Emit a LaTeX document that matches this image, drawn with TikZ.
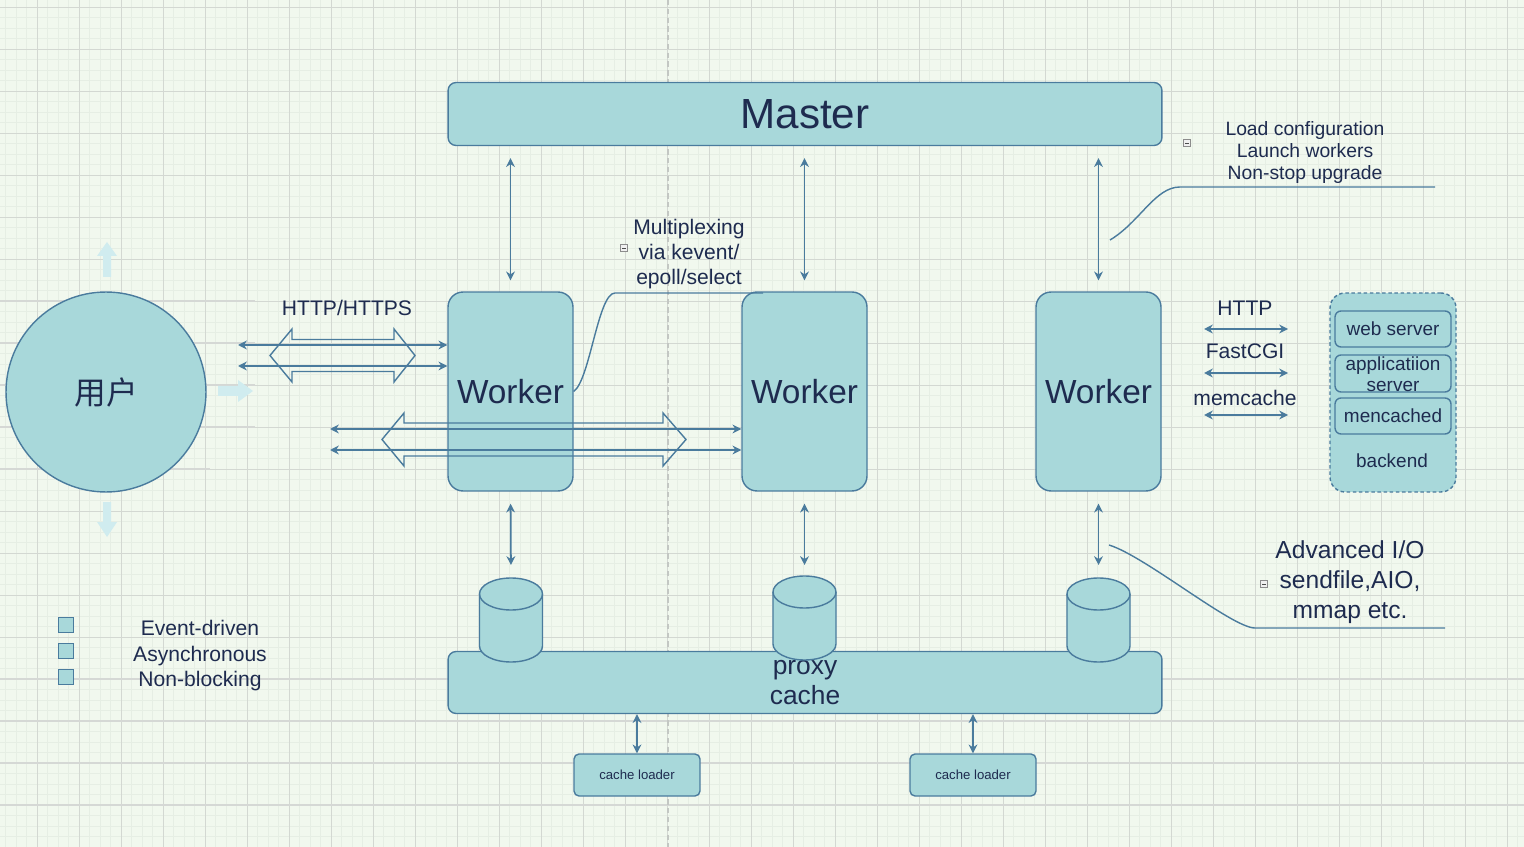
\documentclass[tikz,border=0pt]{standalone}
\usepackage{fontspec}
\setmainfont{Liberation Sans}
\newfontfamily\cjkfont{Noto Sans CJK SC}
\usepackage{tikz}
\usetikzlibrary{arrows.meta, positioning, calc}
\usepackage{xcolor}
\definecolor{NgxFill}{HTML}{A8D8DA}
\definecolor{NgxLine}{HTML}{4A7B9D}
\definecolor{NgxText}{HTML}{1E2B4F}
\definecolor{NgxPaper}{HTML}{F1F8EE}
\definecolor{NgxGridMinor}{HTML}{E6EEE4}
\definecolor{NgxGridMajor}{HTML}{D3D8D2}
\definecolor{NgxRule}{HTML}{D5D8D5}
\definecolor{NgxGuide}{HTML}{C3C7C3}
\definecolor{NgxHint}{HTML}{D0ECEF}
\definecolor{NgxFold}{HTML}{8C8C8C}
\tikzset{
    % Box styles
    masterbox/.style={
        rectangle,
        rounded corners=0.16cm,
        draw=NgxLine,
        fill=NgxFill,
        line width=0.8pt,
        minimum width=14.28cm,
        minimum height=1.26cm,
        text=NgxText,
        font=\fontsize{24}{28}\selectfont
    },
    workerbox/.style={
        rectangle,
        rounded corners=0.3cm,
        draw=NgxLine,
        fill=NgxFill,
        line width=0.8pt,
        minimum width=2.5cm,
        minimum height=3.98cm,
        text=NgxText,
        font=\fontsize{19}{22}\selectfont
    },
    cachebar/.style={
        rectangle,
        rounded corners=0.16cm,
        draw=NgxLine,
        fill=NgxFill,
        line width=0.8pt,
        minimum width=14.28cm,
        minimum height=1.24cm,
        align=center,
        inner sep=0pt,
        text=NgxText,
        font=\fontsize{15}{17.5}\selectfont
    },
    loaderbox/.style={
        rectangle,
        rounded corners=0.1cm,
        draw=NgxLine,
        fill=NgxFill,
        line width=0.8pt,
        minimum width=2.52cm,
        minimum height=0.84cm,
        text=NgxText,
        font=\fontsize{7.5}{9}\selectfont
    },
    userdisk/.style={
        circle,
        draw=NgxLine,
        fill=NgxFill,
        line width=0.8pt,
        minimum size=4cm,
        text=NgxText,
        font=\cjkfont\fontsize{18}{22}\selectfont
    },
    backendbox/.style={
        rectangle,
        rounded corners=0.3cm,
        draw=NgxLine,
        fill=NgxFill,
        line width=0.8pt,
        dashed,
        dash pattern=on 2pt off 1.5pt,
        minimum width=2.52cm,
        minimum height=3.98cm
    },
    serverbox/.style={
        rectangle,
        rounded corners=0.12cm,
        draw=NgxLine,
        fill=NgxFill,
        line width=0.8pt,
        minimum width=2.32cm,
        minimum height=0.72cm,
        inner sep=0pt,
        text=NgxText,
        font=\fontsize{10.8}{12.5}\selectfont
    },
    plainlabel/.style={
        align=center,
        inner sep=0pt,
        text=NgxText,
        font=\fontsize{12}{14.5}\selectfont
    },
    legendbox/.style={
        rectangle,
        draw=NgxLine,
        fill=NgxFill,
        line width=0.9pt,
        minimum size=0.3cm,
        inner sep=0pt
    },
    foldmark/.style={
        rectangle,
        draw=NgxFold,
        fill=gray!12,
        line width=0.4pt,
        minimum width=0.15cm,
        minimum height=0.13cm,
        inner sep=0pt,
        path picture={\draw[black!70, line width=0.5pt]
            ([xshift=0.04cm]path picture bounding box.west) --
            ([xshift=-0.04cm]path picture bounding box.east);}
    },
    % Line styles
    biarrow/.style={
        {Stealth[length=5pt,width=5pt]}-{Stealth[length=5pt,width=5pt]},
        draw=NgxLine,
        line width=1pt
    },
    hollowarrow/.style={
        draw=NgxLine,
        line width=0.8pt,
        line join=miter
    },
    calloutline/.style={
        draw=NgxLine,
        line width=0.8pt
    },
    hintarrow/.style={
        fill=NgxHint
    },
    gridminor/.style={draw=NgxGridMinor, line width=0.5pt},
    gridmajor/.style={draw=NgxGridMajor, line width=0.6pt},
    paperrule/.style={draw=NgxRule, line width=1.1pt},
    guideline/.style={draw=NgxGuide, line width=0.6pt, dash pattern=on 3pt off 2pt},
    % Cache disk on the proxy bar
    cachedisk/.pic={
        \filldraw[draw=NgxLine, fill=NgxFill, line width=0.8pt]
            (-31.5,16) -- (-31.5,68)
            .. controls (-31.5,76.8) and (-17.4,84) .. (0,84)
            .. controls (17.4,84) and (31.5,76.8) .. (31.5,68)
            -- (31.5,16)
            .. controls (31.5,7.2) and (17.4,0) .. (0,0)
            .. controls (-17.4,0) and (-31.5,7.2) .. (-31.5,16) -- cycle;
        \draw[NgxLine, line width=0.8pt]
            (-31.5,16) .. controls (-31.5,24.8) and (-17.4,32) .. (0,32)
            .. controls (17.4,32) and (31.5,24.8) .. (31.5,16);
        \coordinate (-top) at (0,0);
    }
}
% hollow two-headed arrow: tip, inner, inner, tip, mid y, body half, head half
\newcommand\hollowbiarrow[7]{%
    \draw[hollowarrow] (#1,#5) -- (#2,#5-#7) -- (#2,#5-#6) -- (#3,#5-#6)
        -- (#3,#5-#7) -- (#4,#5) -- (#3,#5+#7) -- (#3,#5+#6)
        -- (#2,#5+#6) -- (#2,#5+#7) -- cycle;}

\begin{document}
\begin{tikzpicture}[x=0.02cm, y=-0.02cm]
    % Paper and grid
    \fill[NgxPaper] (0,0) rectangle (1524,847);
    \useasboundingbox (0,0) rectangle (1524,847);
    \foreach \k in {0,...,145} \draw[gridminor] (5.8+10.5*\k,0) -- (5.8+10.5*\k,847);
    \foreach \k in {0,...,80} \draw[gridminor] (0,7.3+10.5*\k) -- (1524,7.3+10.5*\k);
    \foreach \k in {0,...,35} \draw[gridmajor] (37.3+42*\k,0) -- (37.3+42*\k,847);
    \foreach \k in {0,...,19} \draw[gridmajor] (0,7.3+42*\k) -- (1524,7.3+42*\k);
    \foreach \yy in {301,343,385,427} \draw[paperrule] (0,\yy) -- (255,\yy);
    \draw[paperrule] (0,469) -- (210,469);
    \foreach \yy in {679,721,763,805} \draw[paperrule] (0,\yy) -- (1524,\yy);
    \draw[guideline] (668,0) -- (668,847);

    % Faint handles round the user
    \fill[hintarrow] (103,277) -- (103,256) -- (97,256) -- (107,242) -- (117,256) -- (111,256) -- (111,277) -- cycle;
    \fill[hintarrow] (103,502) -- (103,522) -- (97,522) -- (107,537) -- (117,522) -- (111,522) -- (111,502) -- cycle;
    \fill[hintarrow] (218,386) -- (238,386) -- (238,380) -- (253,391) -- (238,402) -- (238,396) -- (218,396) -- cycle;

    % Master and workers
    \node[masterbox] (master) at (805,114) {Master};
    \node[workerbox] (w1) at (510.5,391.5) {Worker};
    \node[workerbox] (w2) at (804.5,391.5) {Worker};
    \node[workerbox] (w3) at (1098.5,391.5) {Worker};
    \node[userdisk] (user) at (106,392) {用户};

    \foreach \w in {w1,w2,w3}
        \draw[biarrow, shorten <=0.24cm, shorten >=0.22cm] (\w.north |- master.south) -- (\w.north);

    % Proxy cache with its disks
    \node[cachebar] (proxy) at (805,682.5) {proxy\\cache};
    \pic (d1) at (511,578) {cachedisk};
    \pic (d2) at (804.5,576) {cachedisk};
    \pic (d3) at (1098.5,578) {cachedisk};
    \draw[biarrow, shorten <=0.24cm, shorten >=0.26cm] (w1.south) -- (d1-top);
    \draw[biarrow, shorten <=0.24cm, shorten >=0.22cm] (w2.south) -- (d2-top);
    \draw[biarrow, shorten <=0.24cm, shorten >=0.26cm] (w3.south) -- (d3-top);

    \node[loaderbox] (load1) at (637,775) {cache loader};
    \node[loaderbox] (load2) at (973,775) {cache loader};
    \draw[biarrow] (load1.north |- proxy.south) -- (load1.north);
    \draw[biarrow] (load2.north |- proxy.south) -- (load2.north);

    % Client traffic
    \node[plainlabel] (proto) at (347,308) {HTTP/HTTPS};
    \hollowbiarrow{270}{292}{394}{415}{355.5}{16}{26.5}
    \hollowbiarrow{382}{404}{663}{686}{439.5}{16.5}{26.5}
    \coordinate (ua) at (238,345);
    \coordinate (ub) at (238,366);
    \coordinate (uc) at (330,429);
    \coordinate (ud) at (330,450);
    \draw[biarrow] (ua) -- (ua -| w1.west);
    \draw[biarrow] (ub) -- (ub -| w1.west);
    \draw[biarrow] (uc) -- (uc -| w2.west);
    \draw[biarrow] (ud) -- (ud -| w2.west);

    % Backend side
    \node[plainlabel] (http) at (1245,308) {HTTP};
    \node[plainlabel] (fcgi) at (1245,351) {FastCGI};
    \node[plainlabel] (memc) at (1245,398) {memcache};
    \foreach \yy/\nm in {329/ha, 373/hb, 415/hc} {
        \coordinate (\nm l) at (1204,\yy);
        \coordinate (\nm r) at (1288,\yy);
        \draw[biarrow] (\nm l) -- (\nm r);
    }
    \node[backendbox] (backend) at (1393,392.5) {};
    \node[serverbox] (web) at (1393,329) {web server};
    \node[serverbox, minimum height=0.74cm] (app) at (1393,373.5) {};
    \node[plainlabel, font=\fontsize{10.8}{12.2}\selectfont] (applbl) at (1393,374.5) {applicatiion\\server};
    \node[serverbox] (memd) at (1393,416) {mencached};
    \node[plainlabel, font=\fontsize{10.8}{13}\selectfont] (bklbl) at (1392,461) {backend};

    % Notes
    \node[plainlabel, font=\fontsize{11}{12.8}\selectfont] (mastnote) at (1305,152.5) {Load configuration\\Launch workers\\Non-stop upgrade};
    \node[foldmark] (fold1) at (1187,143) {};
    \coordinate (mc0) at (1110,240);
    \coordinate (mc1) at (1435,187);
    \draw[calloutline] (mc0) .. controls (1140,222) and (1155,187) .. (1180,187) -- (mc1);

    \node[plainlabel, font=\fontsize{12}{14.2}\selectfont] (muxnote) at (689,254) {Multiplexing\\via kevent/\\epoll/select};
    \node[foldmark] (fold2) at (624,248) {};
    \coordinate (xc1) at (763,293);
    \draw[calloutline] (w1.east) .. controls (590,380) and (598,293) .. (615,293) -- (xc1);

    \node[plainlabel, font=\fontsize{14}{17}\selectfont] (ionote) at (1350,582) {Advanced I/O\\sendfile,AIO,\\mmap etc.};
    \node[foldmark] (fold3) at (1264,584) {};
    \coordinate (ic0) at (1109,545);
    \coordinate (ic1) at (1445,628);
    \draw[calloutline] (ic0) .. controls (1145,556) and (1232,628) .. (1255,628) -- (ic1);

    % Legend
    \foreach \i/\yy in {1/625, 2/651, 3/677}
        \node[legendbox] (key\i) at (66,\yy) {};
    \node[plainlabel] (keys) at (200,656) {Event-driven\\Asynchronous\\Non-blocking};
\end{tikzpicture}
\end{document}
